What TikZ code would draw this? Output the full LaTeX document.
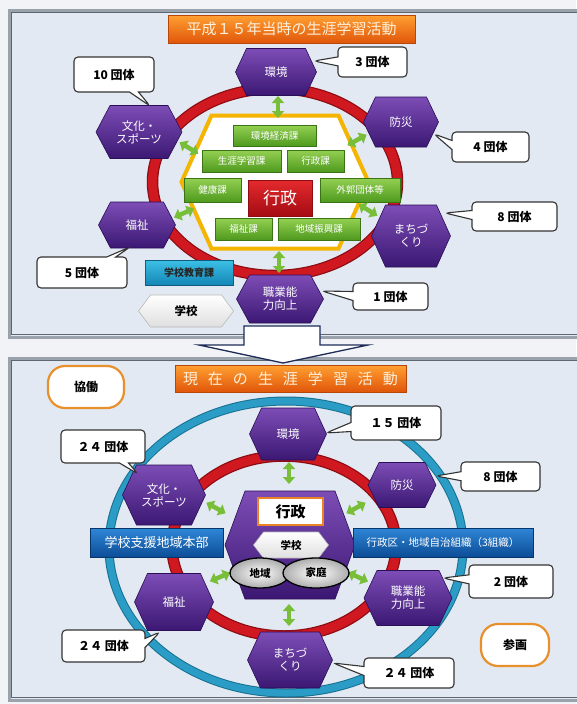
\documentclass[tikz,border=0pt]{standalone}
\usepackage{fontspec}
\setmainfont{Noto Sans CJK JP}
\usetikzlibrary{shapes.callouts,shapes.geometric,arrows.meta}
\definecolor{bgcol}{HTML}{F1F3F6}
\definecolor{panelcol}{HTML}{E2E9F2}
\definecolor{framecol}{HTML}{9AA2AB}
\definecolor{framedark}{HTML}{5E6670}
\definecolor{hextop}{HTML}{7D4DB6}
\definecolor{hexbot}{HTML}{3B1873}
\definecolor{hexedge}{HTML}{2A0E57}
\definecolor{ringred}{HTML}{D01820}
\definecolor{ringdark}{HTML}{8E0C12}
\definecolor{ringblue}{HTML}{2A9CC6}
\definecolor{ringbluedark}{HTML}{16708F}
\definecolor{yel}{HTML}{F4B400}
\definecolor{gtop}{HTML}{94D052}
\definecolor{gbot}{HTML}{4E9A1E}
\definecolor{gedge}{HTML}{3A7414}
\definecolor{rtop}{HTML}{E42A2E}
\definecolor{rbot}{HTML}{A40C12}
\definecolor{ttop}{HTML}{FFA032}
\definecolor{tbot}{HTML}{E0560A}
\definecolor{tedge}{HTML}{B84606}
\definecolor{ttext}{HTML}{FFF0DA}
\definecolor{cyantop}{HTML}{3CC0E6}
\definecolor{cyanbot}{HTML}{1486B6}
\definecolor{bluetop}{HTML}{2E86D6}
\definecolor{bluebot}{HTML}{0C4C96}
\definecolor{navy}{HTML}{1E2C58}
\definecolor{orng}{HTML}{E8902C}
\definecolor{arrowg}{HTML}{78BE38}
\newcommand{\hexnode}[8]{%
  \path[#7] ({#2-#4/2},#3) -- ({#2-#4/2+#6},{#3-#5/2}) -- ({#2+#4/2-#6},{#3-#5/2}) -- ({#2+#4/2},#3) -- ({#2+#4/2-#6},{#3+#5/2}) -- ({#2-#4/2+#6},{#3+#5/2}) -- cycle;
  \node[hextext, minimum width=#4pt, minimum height=#5pt] (#1) at (#2,#3) {#8};}
\begin{document}
\begin{tikzpicture}[x=1pt,y=-1pt]
\tikzset{
 hextext/.style={inner sep=0pt, align=center, text=white, font=\fontsize{11.5}{13}\selectfont},
 phex/.style={top color=hextop, bottom color=hexbot, draw=hexedge, line width=0.6pt},
 whex/.style={top color=white, bottom color=gray!25, draw=gray!55, line width=0.6pt},
 yhex/.style={fill=white, draw=yel, line width=4pt},
 gbox/.style={rectangle, top color=gtop, bottom color=gbot, draw=gedge, line width=0.6pt, text=white, inner sep=0pt, font=\fontsize{9.5}{11}\selectfont},
 rbox/.style={rectangle, top color=rtop, bottom color=rbot, draw=ringdark, line width=0.6pt, text=white, inner sep=0pt, font=\fontsize{17}{19}\selectfont},
 cbox/.style={rectangle, top color=cyantop, bottom color=cyanbot, draw=cyanbot!70!black, line width=0.6pt, text=black!85, inner sep=0pt, font=\bfseries\fontsize{10}{12}\selectfont},
 bbar/.style={rectangle, top color=bluetop, bottom color=bluebot, draw=bluebot!70!black, line width=0.6pt, text=white, inner sep=0pt},
 titlebar/.style={rectangle, top color=ttop, bottom color=tbot, draw=tedge, line width=0.6pt, text=ttext, inner sep=0pt, font=\fontsize{15}{17}\selectfont},
 callbox/.style={rectangle callout, draw=black!80, line width=1.1pt, fill=white, rounded corners=4pt, inner sep=0pt, callout pointer width=9pt, font=\bfseries\fontsize{12}{14}\selectfont},
 oval/.style={rectangle, rounded corners=17pt, draw=orng, line width=2.2pt, fill=white, inner sep=0pt, font=\bfseries\fontsize{12}{14}\selectfont},
 egg/.style={ellipse, draw=black, line width=1.3pt, inner color=white, outer color=gray!65, inner sep=0pt, font=\bfseries\fontsize{10.5}{12}\selectfont},
 gyobox/.style={rectangle, fill=white, draw=orng!90!red, line width=2.5pt, inner sep=0pt, font=\bfseries\fontsize{15}{17}\selectfont},
 garrow/.style={line width=4.5pt, draw=arrowg, arrows={Triangle[length=7pt,width=12pt]-Triangle[length=7pt,width=12pt]}},
 panel/.style={fill=panelcol, draw=framecol, line width=3pt},
 paneledge/.style={draw=framedark, line width=0.8pt},
 redring/.style={draw=ringred, line width=9pt},
 redringedge/.style={draw=ringdark, line width=11.5pt},
 bluering/.style={draw=ringblue, line width=7pt},
 blueringedge/.style={draw=ringbluedark, line width=9pt},
}
\useasboundingbox (0,0) rectangle (576,704);
\fill[bgcol] (0,0) rectangle (576,704);
% ---------------- top panel
\path[panel] (9,10) rectangle (600,337);
\path[paneledge] (11.5,12.5) rectangle (600,334.5);
\node[titlebar, minimum width=247pt, minimum height=28pt] (title1) at (291.5,29) {平成１５年当時の生涯学習活動};
\draw[redringedge] (275,182) ellipse [x radius=122.5, y radius=93.5];
\draw[redring] (275,182) ellipse [x radius=122.5, y radius=93.5];
\hexnode{yhexa}{275}{182}{187}{133}{30}{yhex}{}
\node[gbox, minimum width=83pt, minimum height=21pt] (g1) at (274.5,135.5) {環境経済課};
\node[gbox, minimum width=79pt, minimum height=22pt] (g2) at (241.5,161) {生涯学習課};
\node[gbox, minimum width=57pt, minimum height=22pt] (g3) at (315.5,161) {行政課};
\node[gbox, minimum width=57pt, minimum height=24pt] (g4) at (212.5,190) {健康課};
\node[gbox, minimum width=80pt, minimum height=24pt] (g5) at (360,190) {外郭団体等};
\node[gbox, minimum width=57pt, minimum height=22pt] (g6) at (243.5,229) {福祉課};
\node[gbox, minimum width=82pt, minimum height=22pt] (g7) at (319,229) {地域振興課};
\node[rbox, minimum width=64pt, minimum height=36pt] (gyo1) at (280,198) {行政};
% green arrows top
\coordinate (a1s) at (278,96);      \coordinate (a1e) at (278,118);
\coordinate (a2s) at (179.6,142.3); \coordinate (a2e) at (198.4,153.7);
\coordinate (a3s) at (347.4,145.3); \coordinate (a3e) at (366.6,134.7);
\coordinate (a4s) at (174,217.5);   \coordinate (a4e) at (194,208.5);
\coordinate (a5s) at (358.6,204.3); \coordinate (a5e) at (377.4,215.7);
\coordinate (a6s) at (279,251);     \coordinate (a6e) at (279,273);
\foreach \i in {1,...,6} {\draw[garrow] (a\i s) -- (a\i e);}
% hexes top
\hexnode{tenv}{276}{72}{81}{47}{11}{phex}{環境}
\hexnode{tcul}{139}{132}{86}{53}{14}{phex}{文化・\\スポーツ}
\hexnode{tbou}{401}{122}{75}{50}{12}{phex}{防災}
\hexnode{tfuk}{137}{225}{77}{46}{12}{phex}{福祉}
\hexnode{tmachi}{411}{236}{79}{62}{14}{phex}{まちづ\\くり}
\hexnode{tshoku}{280}{299}{87}{48}{13}{phex}{職業能\\力向上}
\hexnode{tschool}{186}{311}{95}{32}{12}{whex}{\color{black}\bfseries 学校}
\node[cbox, minimum width=88pt, minimum height=25pt] (kyoiku) at (189,272.5) {学校教育課};
% callouts top
\coordinate (p10) at (150,106);
\node[callbox, minimum width=80pt, minimum height=35pt, callout absolute pointer={(p10)}] (c10) at (114,74.5) {10 団体};
\coordinate (p3) at (314,61);
\node[callbox, minimum width=69pt, minimum height=30pt, callout absolute pointer={(p3)}] (c3) at (372.5,62) {3 団体};
\coordinate (p4) at (434,134);
\node[callbox, minimum width=77pt, minimum height=30pt, callout absolute pointer={(p4)}] (c4) at (490.5,147) {4 団体};
\coordinate (p8) at (445,213);
\node[callbox, minimum width=85pt, minimum height=29pt, callout absolute pointer={(p8)}] (c8) at (514.5,216.5) {8 団体};
\coordinate (p5) at (130,247);
\node[callbox, minimum width=90pt, minimum height=31pt, callout absolute pointer={(p5)}] (c5) at (82,272.5) {5 団体};
\coordinate (p1) at (322,291);
\node[callbox, minimum width=75pt, minimum height=27pt, callout absolute pointer={(p1)}] (c1) at (390.5,296.5) {1 団体};
% ---------------- bottom panel
\path[panel] (9,358) rectangle (600,700);
\path[paneledge] (11.5,360.5) rectangle (600,697.5);
% big arrow
\filldraw[fill=white, draw=navy, line width=1.3pt] (244,326) -- (320,326) -- (320,345) -- (368,345) -- (283,363) -- (199,345) -- (244,345) -- cycle;
\node[oval, minimum width=76pt, minimum height=42pt] (kyodo) at (86,387) {協働};
\node[titlebar, minimum width=231pt, minimum height=27pt] (title2) at (290.5,378.5) {現\hspace{10pt}在\hspace{10pt}の\hspace{10pt}生\hspace{10pt}涯\hspace{10pt}学\hspace{10pt}習\hspace{10pt}活\hspace{10pt}動};
\draw[blueringedge] (286,547) ellipse [x radius=177, y radius=146];
\draw[bluering] (286,547) ellipse [x radius=177, y radius=146];
\draw[redringedge] (284,546) ellipse [x radius=112, y radius=90];
\draw[redring] (284,546) ellipse [x radius=112, y radius=90];
% green arrows bottom
\coordinate (b1s) at (289,462);     \coordinate (b1e) at (289,484);
\coordinate (b2s) at (206.4,502.7); \coordinate (b2e) at (225.6,513.3);
\coordinate (b3s) at (346.4,513.3); \coordinate (b3e) at (365.6,502.7);
\coordinate (b4s) at (209.9,581.3); \coordinate (b4e) at (230.1,572.7);
\coordinate (b5s) at (348,572.4);   \coordinate (b5e) at (368,581.6);
\coordinate (b6s) at (289,604);     \coordinate (b6e) at (289,626);
\foreach \i in {1,...,6} {\draw[garrow] (b\i s) -- (b\i e);}
% hexes bottom
\hexnode{benv}{288}{434}{77}{52}{12}{phex}{環境}
\hexnode{bcul}{164}{495}{83}{60}{14}{phex}{文化・\\スポーツ}
\hexnode{bbou}{402}{485}{68}{45}{11}{phex}{防災}
\hexnode{bfuk}{174}{602}{79}{57}{13}{phex}{福祉}
\hexnode{bshoku}{408}{598}{88}{55}{13}{phex}{職業能\\力向上}
\hexnode{bmachi}{290}{660}{85}{56}{13}{phex}{まちづ\\くり}
\hexnode{bcenter}{290}{545}{130}{108}{20}{phex}{}
\node[gyobox, minimum width=65pt, minimum height=27pt] (bgyo) at (290.5,511.5) {行政};
\hexnode{bschool}{291}{545}{75}{26}{10}{whex}{\color{black}\bfseries\fontsize{10.5}{12}\selectfont 学校}
\node[egg, minimum width=60pt, minimum height=30pt] (chiiki) at (260,573) {地域};
\node[egg, minimum width=66pt, minimum height=30pt] (katei) at (316,573) {家庭};
\node[bbar, minimum width=133pt, minimum height=29pt, font=\fontsize{13}{15}\selectfont] (honbu) at (156.5,543) {学校支援地域本部};
\node[bbar, minimum width=180pt, minimum height=29pt, font=\fontsize{10.5}{12}\selectfont] (gyoseiku) at (443,542.5) {行政区・地域自治組織（3組織）};
% callouts bottom
\coordinate (q15) at (326,433);
\node[callbox, minimum width=90pt, minimum height=34pt, callout absolute pointer={(q15)}] (d15) at (396,423) {１５ 団体};
\coordinate (q24a) at (138,474);
\node[callbox, minimum width=84pt, minimum height=33pt, callout absolute pointer={(q24a)}] (d24a) at (103,446.5) {２４ 団体};
\coordinate (q8) at (436,476);
\node[callbox, minimum width=79pt, minimum height=29pt, callout absolute pointer={(q8)}] (d8) at (500.5,476.5) {8 団体};
\coordinate (q2) at (443,578);
\node[callbox, minimum width=84pt, minimum height=33pt, callout absolute pointer={(q2)}] (d2) at (511,581.5) {2 団体};
\coordinate (q24b) at (160,632);
\node[callbox, minimum width=83pt, minimum height=32pt, callout absolute pointer={(q24b)}] (d24b) at (103.5,646) {２４ 団体};
\coordinate (q24c) at (333,663);
\node[callbox, minimum width=90pt, minimum height=30pt, callout absolute pointer={(q24c)}] (d24c) at (409,673) {２４ 団体};
\node[oval, minimum width=68pt, minimum height=42pt] (sankaku) at (515,645) {参画};
\end{tikzpicture}
\end{document}
